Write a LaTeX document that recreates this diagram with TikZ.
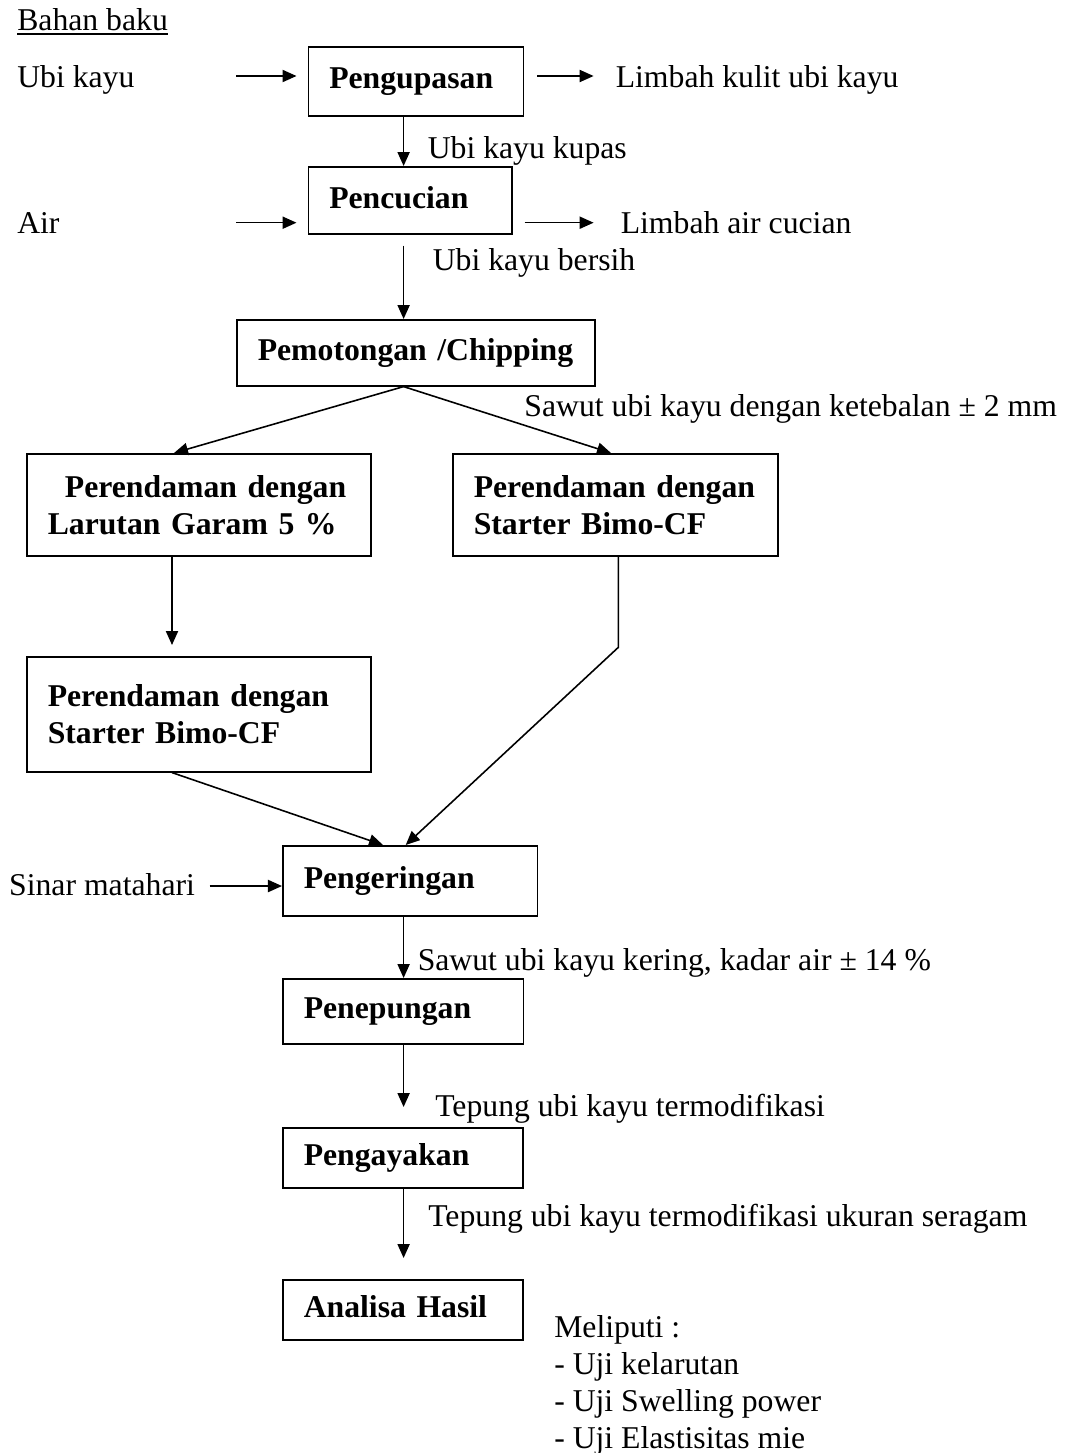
\documentclass[tikz,border=0pt]{standalone}
\usepackage{fontspec}
\setmainfont{Liberation Serif}
\usetikzlibrary{arrows.meta}
\def\PX{0.3785pt}
\begin{document}
\begin{tikzpicture}[x=\PX, y=-\PX, line width=0.6pt,
  every node/.style={font=\fontsize{12pt}{14pt}\selectfont, inner sep=0pt},
  box/.style={draw, anchor=north west, inner xsep=21*\PX, inner ysep=0pt, align=left,
    font=\fontsize{12pt}{14pt}\selectfont\bfseries},
  one/.style={text depth=0.22em},
  lbl/.style={anchor=base west},
  arr/.style={-{Triangle[length=5.3pt,width=4.6pt]}}]
\useasboundingbox (0,0) rectangle (1069,1453);
% boxes
\node[box, one, minimum width=215*\PX, minimum height=69*\PX, text width=173*\PX] (peng) at (307.5,46) {\mbox{Pengupasan}};
\node[box, one, minimum width=203.5*\PX, minimum height=67*\PX, text width=161.5*\PX] (cuci) at (307.5,166) {\mbox{Pencucian}};
\node[box, one, minimum width=358*\PX, minimum height=66*\PX, text width=316*\PX] (potong) at (236,319) {\mbox{Pemotongan /Chipping}};
\node[box, minimum width=344*\PX, minimum height=102*\PX, text width=302*\PX] (garam) at (26,453) {\mbox{\hspace*{6.5pt}Perendaman dengan}\\\mbox{Larutan Garam 5 \%}};
\node[box, minimum width=344*\PX, minimum height=115*\PX, text width=302*\PX] (stL) at (26,656) {\mbox{Perendaman dengan}\\\mbox{Starter Bimo-CF}\\[0.6em]};
\node[box, minimum width=325*\PX, minimum height=102*\PX, text width=283*\PX] (stR) at (452,453) {\mbox{Perendaman dengan}\\\mbox{Starter Bimo-CF}};
\node[box, one, minimum width=254.5*\PX, minimum height=70*\PX, text width=212.5*\PX] (kering) at (282,845) {\mbox{Pengeringan}};
\node[box, one, minimum width=240.5*\PX, minimum height=65*\PX, text width=198.5*\PX] (tepung) at (282,978) {\mbox{Penepungan}};
\node[box, one, minimum width=240*\PX, minimum height=60*\PX, text width=198*\PX] (ayak) at (282,1127) {\mbox{Pengayakan}};
\node[box, one, minimum width=240*\PX, minimum height=60*\PX, text width=198*\PX] (analisa) at (282,1279) {\mbox{Analisa Hasil}};
% labels
\node[lbl] (bahan) at (16.5,30) {\underline{Bahan baku}};
\node[lbl] (ubi) at (16.5,87) {Ubi kayu};
\node[lbl] (limbah1) at (615,87) {Limbah kulit ubi kayu};
\node[lbl] (kupas) at (427,158) {Ubi kayu kupas};
\node[lbl] (air) at (16.5,233) {Air};
\node[lbl] (limbah2) at (620,233) {Limbah air cucian};
\node[lbl] (bersih) at (432,270) {Ubi kayu bersih};
\node[lbl] (sawut) at (523.7,416.7) {Sawut ubi kayu dengan ketebalan ± 2 mm};
\node[lbl] (sinar) at (8.4,895) {Sinar matahari};
\node[lbl] (sawutk) at (417,970) {Sawut ubi kayu kering, kadar air ± 14 \%};
\node[lbl] (tep1) at (434.5,1116.7) {Tepung ubi kayu termodifikasi};
\node[lbl] (tep2) at (427.5,1226.7) {Tepung ubi kayu termodifikasi ukuran seragam};
\node[lbl, align=left] (meliputi) at (553.5,1448) {Meliputi :\\- Uji kelarutan\\- Uji Swelling power\\- Uji Elastisitas mie};
% coordinates
\coordinate (col) at (403.6,0);
\coordinate (uin) at (236,76);
\coordinate (kout) at (593.6,76);
\coordinate (ain) at (236,222.7);
\coordinate (aout) at (593.6,222.7);
\coordinate (sin) at (209.7,886);
% connectors
\draw[arr, shorten >=4.16pt] (uin) -- (uin -| peng.west);
\draw[arr, shorten <=4.92pt] (kout -| peng.east) -- (kout);
\draw[arr, shorten >=4.16pt] (ain) -- (ain -| cuci.west);
\draw[arr, shorten <=4.54pt] (aout -| cuci.east) -- (aout);
\draw[arr] (col |- peng.south) -- (col |- cuci.north);
\draw[arr, shorten <=4.16pt] (col |- cuci.south) -- (col |- potong.north);
\draw[arr] (col |- potong.south) -- ([xshift=148*\PX]garam.north west);
\draw[arr] (col |- potong.south) -- ([xshift=159*\PX]stR.north west);
\draw[arr, shorten >=4.16pt] ([xshift=146*\PX]garam.south west) -- ([xshift=146*\PX]stL.north west);
\draw[arr] ([xshift=146*\PX]stL.south west) -- ([xshift=101*\PX]kering.north west);
\draw[arr] ([xshift=166.4*\PX]stR.south west) -- ++(0,90.7) -- ([xshift=123.7*\PX]kering.north west);
\draw[arr] (sin) -- (sin -| kering.west);
\draw[arr] (col |- kering.south) -- (col |- tepung.north);
\draw[arr, shorten >=7.57pt] (col |- tepung.south) -- (col |- ayak.north);
\draw[arr, shorten >=7.95pt] (col |- ayak.south) -- (col |- analisa.north);
\end{tikzpicture}
\end{document}
